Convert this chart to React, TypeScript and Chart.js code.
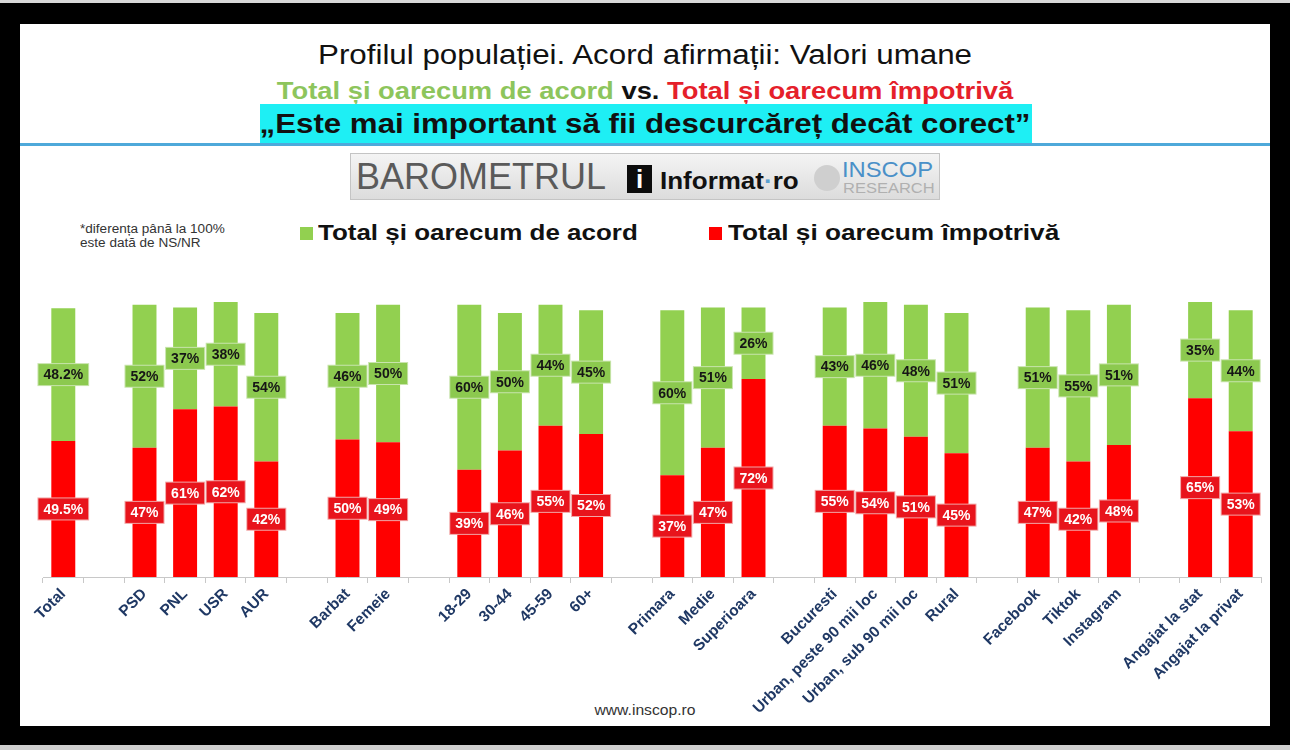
import React, { useEffect, useRef } from "react";
import { Chart, registerables } from "chart.js";

Chart.register(...registerables);

const categories = [
  "Total", "", "PSD", "PNL", "USR", "AUR", "", "Barbat", "Femeie", "",
  "18-29", "30-44", "45-59", "60+", "", "Primara", "Medie", "Superioara", "",
  "Bucuresti", "Urban, peste 90 mii loc", "Urban, sub 90 mii loc", "Rural", "",
  "Facebook", "Tiktok", "Instagram", "", "Angajat la stat", "Angajat la privat",
];

const impotriva = [
  49.5, null, 47, 61, 62, 42, null, 50, 49, null,
  39, 46, 55, 52, null, 37, 47, 72, null,
  55, 54, 51, 45, null,
  47, 42, 48, null, 65, 53,
];

const acord = [
  48.2, null, 52, 37, 38, 54, null, 46, 50, null,
  60, 50, 44, 45, null, 60, 51, 26, null,
  43, 46, 48, 51, null,
  51, 55, 51, null, 35, 44,
];

const seriesNames = ["Total și oarecum împotrivă", "Total și oarecum de acord"];

const GREEN = "#92D050";
const RED = "#FF0000";
const FONT = "'Liberation Sans', Arial, sans-serif";

const fmt = (v: number) => (Number.isInteger(v) ? `${v}%` : `${v.toFixed(1)}%`);

const boxLabels = {
  id: "boxLabels",
  afterDatasetsDraw(chart: any) {
    const ctx = chart.ctx;
    ctx.save();
    ctx.font = `bold 14px ${FONT}`;
    ctx.textAlign = "center";
    ctx.textBaseline = "middle";
    chart.data.datasets.forEach((ds: any, di: number) => {
      const meta = chart.getDatasetMeta(di);
      meta.data.forEach((el: any, i: number) => {
        const v = ds.data[i];
        if (v == null) return;
        const { x, y, base } = el.getProps(["x", "y", "base"], true);
        const cy = (y + base) / 2;
        const t = fmt(v);
        const w = ctx.measureText(t).width + 10;
        const h = 21;
        const isRed = di === 0;
        ctx.fillStyle = isRed ? "#F2A6A6" : "#C8E4AC";
        ctx.fillRect(x - w / 2 - 1, cy - h / 2 - 1, w + 2, h + 2);
        ctx.fillStyle = isRed ? "#E8141C" : "#8CC94F";
        ctx.fillRect(x - w / 2, cy - h / 2, w, h);
        ctx.fillStyle = isRed ? "#FFFFFF" : "#161616";
        ctx.fillText(t, x, cy + 1);
      });
    });
    ctx.restore();
  },
};

export default function App() {
  const ref = useRef<HTMLCanvasElement | null>(null);

  useEffect(() => {
    if (!ref.current) return;
    const AXIS_H = 150;
    const chart = new Chart(ref.current, {
      type: "bar",
      data: {
        labels: categories,
        datasets: [
          {
            label: seriesNames[0],
            data: impotriva,
            backgroundColor: RED,
            categoryPercentage: 1,
            barPercentage: 0.59,
          },
          {
            label: seriesNames[1],
            data: acord,
            backgroundColor: GREEN,
            categoryPercentage: 1,
            barPercentage: 0.59,
          },
        ],
      },
      options: {
        responsive: false,
        animation: false,
        devicePixelRatio: 1,
        layout: { padding: { left: 43, right: 29, top: 302, bottom: 750 - 577 - AXIS_H } },
        plugins: { legend: { display: false }, tooltip: { enabled: false }, title: { display: false } },
        scales: {
          x: {
            stacked: true,
            afterFit: (axis: any) => {
              axis.height = AXIS_H;
            },
            grid: {
              display: true,
              drawOnChartArea: false,
              drawTicks: true,
              tickLength: 6,
              color: "#C8C8C8",
            },
            border: { display: true, color: "#C8C8C8", width: 1 },
            ticks: {
              autoSkip: false,
              minRotation: 45,
              maxRotation: 45,
              padding: 2,
              color: "#1F3864",
              font: { family: FONT, size: 15.5, weight: "bold" },
            },
          },
          y: {
            stacked: true,
            display: false,
            min: 0,
            max: 100,
          },
        },
      },
      plugins: [boxLabels],
    });
    return () => chart.destroy();
  }, []);

  const abs = (s: React.CSSProperties): React.CSSProperties => ({ position: "absolute", ...s });

  return (
    <div style={{ position: "fixed", left: 0, top: 0, width: 1290, height: 750, background: "#000", overflow: "hidden", fontFamily: FONT }}>
      <div style={abs({ left: 0, top: 0, width: 1290, height: 3, background: "#d8d8d8" })} />
      <div style={abs({ left: 0, top: 745, width: 1290, height: 5, background: "#d0d0d0" })} />
      <div style={abs({ left: 20, top: 24, width: 1250, height: 702, background: "#fff" })} />

      {/* Titles */}
      <div style={abs({ left: 20, width: 1250, top: 38, height: 34, lineHeight: "34px", textAlign: "center", fontSize: 27, color: "#111", transform: "scaleX(1.16)" })}>
        Profilul populației. Acord afirmații: Valori umane
      </div>
      <div style={abs({ left: 20, width: 1250, top: 77, height: 28, lineHeight: "28px", textAlign: "center", fontSize: 24, fontWeight: "bold", transform: "scaleX(1.14)" })}>
        <span style={{ color: "#8DC55C" }}>Total și oarecum de acord</span>
        <span style={{ color: "#111" }}> vs. </span>
        <span style={{ color: "#E5202A" }}>Total și oarecum împotrivă</span>
      </div>
      <div style={abs({ left: 260, width: 772, top: 104, height: 39, background: "#1EEFF4" })} />
      <div style={abs({ left: 20, width: 1250, top: 105, height: 38, lineHeight: "38px", textAlign: "center", fontSize: 27, fontWeight: "bold", color: "#111", transform: "scaleX(1.157)" })}>
        „Este mai important să fii descurcăreț decât corect”
      </div>
      <div style={abs({ left: 20, width: 1250, top: 143, height: 3, background: "#4EA9DA" })} />

      {/* Logo banner */}
      <div style={abs({ left: 350, top: 153, width: 590, height: 47, background: "linear-gradient(#f4f4f4, #dcdcdc)", border: "1px solid #c4c4c4", boxSizing: "border-box" })} />
      <div style={abs({ left: 356, top: 157, height: 40, lineHeight: "40px", fontSize: 36, color: "#5a5a5a" })}>
        BAROMETRUL
      </div>
      <div style={abs({ left: 627, top: 165, width: 25, height: 28, background: "#0c0c0c" })} />
      <div style={abs({ left: 627, top: 165, width: 25, height: 28, lineHeight: "28px", textAlign: "center", fontSize: 26, fontWeight: "bold", color: "#fff" })}>
        i
      </div>
      <div style={abs({ left: 660, top: 166, height: 30, lineHeight: "30px", fontSize: 23, fontWeight: "bold", color: "#111", transform: "scaleX(1.13)", transformOrigin: "left center" })}>
        Informat<span style={{ color: "#5aa0d0" }}>·</span>ro
      </div>
      <div style={abs({ left: 814, top: 165, width: 26, height: 26, borderRadius: 13, background: "#cfcfcf" })} />
      <div style={abs({ left: 842, top: 159, height: 22, lineHeight: "22px", fontSize: 22, color: "#4A90C8", transform: "scaleX(1.08)", transformOrigin: "left center" })}>
        INSCOP
      </div>
      <div style={abs({ left: 843, top: 180, height: 16, lineHeight: "16px", fontSize: 15, color: "#b0b0b0", transform: "scaleX(1.1)", transformOrigin: "left center" })}>
        RESEARCH
      </div>

      {/* Note */}
      <div style={abs({ left: 80, top: 222, fontSize: 12, lineHeight: "14px", color: "#333", transform: "scaleX(1.13)", transformOrigin: "left top" })}>
        *diferența până la 100%
        <br />
        este dată de NS/NR
      </div>

      {/* Legend */}
      <div style={abs({ left: 300, top: 227, width: 13, height: 13, background: GREEN })} />
      <div style={abs({ left: 318, top: 219, height: 28, lineHeight: "28px", fontSize: 22, fontWeight: "bold", color: "#111", transform: "scaleX(1.18)", transformOrigin: "left center", whiteSpace: "nowrap" })}>
        {seriesNames[1]}
      </div>
      <div style={abs({ left: 709, top: 227, width: 13, height: 13, background: RED })} />
      <div style={abs({ left: 728, top: 219, height: 28, lineHeight: "28px", fontSize: 22, fontWeight: "bold", color: "#111", transform: "scaleX(1.19)", transformOrigin: "left center", whiteSpace: "nowrap" })}>
        {seriesNames[0]}
      </div>

      <div style={abs({ left: 20, width: 1250, top: 702, textAlign: "center", fontSize: 14, color: "#333", transform: "scaleX(1.12)" })}>
        www.inscop.ro
      </div>

      <canvas ref={ref} width={1290} height={750} style={abs({ left: 0, top: 0, width: 1290, height: 750 })} />
    </div>
  );
}
